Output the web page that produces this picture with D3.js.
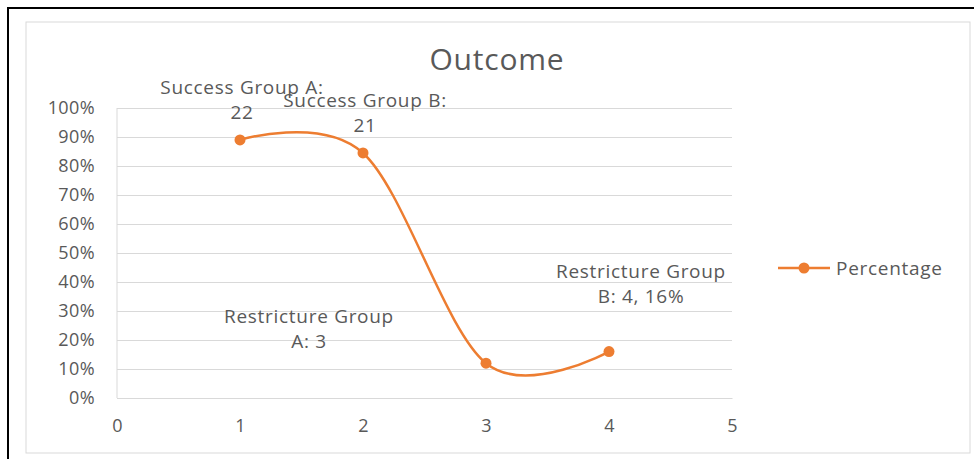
<!DOCTYPE html>
<html>
<head>
<meta charset="utf-8">
<script src="https://cdn.jsdelivr.net/npm/d3@7"></script>
<style>
  body { margin: 0; background: #fff; }
  svg text { font-family: "Open Sans", sans-serif; fill: #595959; }
</style>
</head>
<body>
<svg id="chart" width="974" height="459"></svg>
<script>
const groups = [1, 2, 3, 4];
const counts = [22, 21, 3, 4];
const percentages = [0.89, 0.845, 0.12, 0.16];
const labelLines = [
  ['Success Group A:', '22'],
  ['Success Group B:', '21'],
  ['Restricture Group', 'A: 3'],
  ['Restricture Group', 'B: 4, 16%']
];
const yTicks = [0, 0.1, 0.2, 0.3, 0.4, 0.5, 0.6, 0.7, 0.8, 0.9, 1];
const xTicks = [0, 1, 2, 3, 4, 5];
const seriesName = 'Percentage';

const svg = d3.select('svg#chart');
const orange = '#ED7D31';

// frames
svg.append('rect')
  .attr('x', 8).attr('y', 8).attr('width', 975).attr('height', 460)
  .attr('fill', 'none').attr('stroke', '#000').attr('stroke-width', 2);
svg.append('rect')
  .attr('x', 26).attr('y', 22).attr('width', 944).attr('height', 431)
  .attr('fill', '#fff').attr('stroke', '#d9d9d9').attr('stroke-width', 1);

const margin = { left: 117, top: 108 };
const innerWidth = 732 - 117;
const innerHeight = 398 - 108;

const g = svg.append('g')
  .attr('transform', `translate(${margin.left},${margin.top})`);

const x = d3.scaleLinear().domain([0, 5]).range([0, innerWidth]);
const y = d3.scaleLinear().domain([0, 1]).range([innerHeight, 0]);

// y axis + gridlines
const yAxisG = g.append('g')
  .call(d3.axisLeft(y).tickValues(yTicks).tickFormat(d3.format('.0%'))
    .tickSize(-innerWidth).tickPadding(22));
yAxisG.select('.domain').remove();
yAxisG.selectAll('line').attr('stroke', '#d9d9d9');
yAxisG.selectAll('text')
  .attr('font-size', 18).attr('letter-spacing', 0.4).attr('fill', '#595959');

g.append('line')
  .attr('x1', 0).attr('x2', 0).attr('y1', 0).attr('y2', innerHeight)
  .attr('stroke', '#d9d9d9');

// x axis
const xAxisG = g.append('g')
  .attr('transform', `translate(0,${innerHeight})`)
  .call(d3.axisBottom(x).tickValues(xTicks).tickFormat(d3.format('d'))
    .tickSize(0).tickPadding(21));
xAxisG.select('.domain').attr('stroke', '#d9d9d9');
xAxisG.selectAll('text').attr('font-size', 18).attr('fill', '#595959');

const data = groups.map((d, i) => ({ x: d, y: percentages[i], n: counts[i], lines: labelLines[i] }));

const line = d3.line()
  .x(d => x(d.x))
  .y(d => y(d.y))
  .curve(d3.curveCardinal.tension(0));

g.append('path')
  .datum(data)
  .attr('d', line)
  .attr('fill', 'none')
  .attr('stroke', orange)
  .attr('stroke-width', 2.5);

g.selectAll('circle.pt').data(data).enter().append('circle')
  .attr('class', 'pt')
  .attr('cx', d => x(d.x))
  .attr('cy', d => y(d.y))
  .attr('r', 5.5)
  .attr('fill', orange);

// data labels (offsets from their point)
const labelOffsets = [[2, -46], [2, -46], [-177, -40], [32, -74]];
const labels = g.selectAll('text.lbl').data(data).enter().append('text')
  .attr('class', 'lbl')
  .attr('text-anchor', 'middle')
  .attr('font-size', 19)
  .attr('letter-spacing', 0.7)
  .attr('transform', (d, i) => `translate(${x(d.x) + labelOffsets[i][0]},${y(d.y) + labelOffsets[i][1]})`);
labels.selectAll('tspan').data(d => d.lines).enter().append('tspan')
  .attr('x', 0)
  .attr('dy', (d, i) => i === 0 ? 0 : 25)
  .text(d => d);

// title
svg.append('text')
  .attr('x', 497).attr('y', 70)
  .attr('text-anchor', 'middle')
  .attr('font-size', 30)
  .attr('letter-spacing', 0.8)
  .text('Outcome');

// legend
const lg = svg.append('g').attr('transform', 'translate(778,268)');
lg.append('line').attr('x1', 0).attr('x2', 52).attr('stroke', orange).attr('stroke-width', 2.5);
lg.append('circle').attr('cx', 26).attr('r', 5.5).attr('fill', orange);
lg.append('text').attr('x', 58).attr('dy', '0.35em')
  .attr('font-size', 19).attr('letter-spacing', 0.7).text(seriesName);
</script>
</body>
</html>
